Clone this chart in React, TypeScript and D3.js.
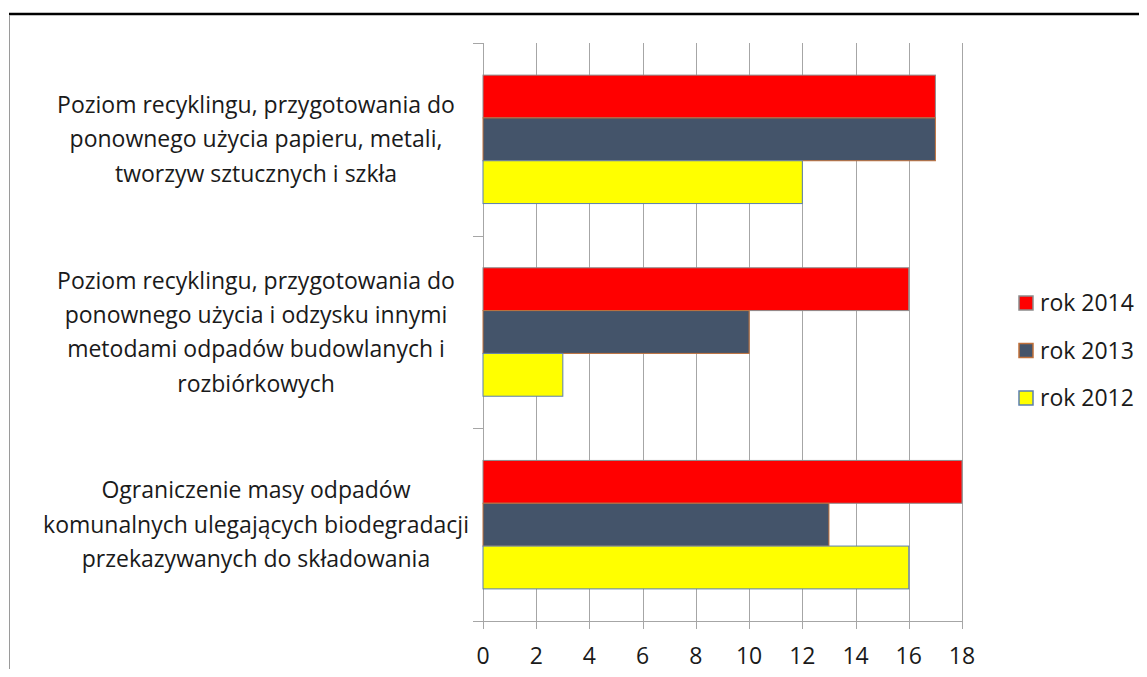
import React from "react";
import * as d3 from "d3";

const categories: string[][] = [
  ["Poziom recyklingu, przygotowania do", "ponownego użycia papieru, metali,", "tworzyw sztucznych i szkła"],
  ["Poziom recyklingu, przygotowania do", "ponownego użycia i odzysku innymi", "metodami odpadów budowlanych i", "rozbiórkowych"],
  ["Ograniczenie masy odpadów", "komunalnych ulegających biodegradacji", "przekazywanych do składowania"],
];
const seriesNames = ["rok 2014", "rok 2013", "rok 2012"];
const values2014 = [17, 16, 18];
const values2013 = [17, 10, 13];
const values2012 = [12, 3, 16];
const xTicks = [0, 2, 4, 6, 8, 10, 12, 14, 16, 18];

const seriesValues = [values2014, values2013, values2012];
const fills = ["#FF0000", "#44546A", "#FFFF00"];
const strokes = ["#8c8c8c", "#C0703A", "#5B7FB0"];

const W = 1147;
const H = 677;
const FONT = "'Open Sans', 'Noto Sans', sans-serif";

export default function App() {
  const left = 483;
  const right = 962;
  const top = 43;
  const bottom = 621;
  const x = d3.scaleLinear().domain([0, 18]).range([left, right]);
  const y = d3
    .scaleBand<number>()
    .domain(d3.range(categories.length))
    .range([top, bottom]);
  const inner = d3
    .scaleBand<number>()
    .domain(d3.range(seriesNames.length))
    .range([0, y.bandwidth()])
    .paddingInner(0)
    .paddingOuter(0.75);
  const lineH = 34.3;

  return (
    <div style={{ margin: -8 }}>
      <svg width={W} height={H} style={{ display: "block", background: "#fff" }}>
        <line x1={9} x2={W} y1={14} y2={14} stroke="#000" strokeWidth={2.5} />
        <line x1={9.5} x2={9.5} y1={15} y2={H} stroke="#9a9a9a" strokeWidth={1} />
        {/* gridlines */}
        {xTicks.map((t) => (
          <line key={"g" + t} x1={Math.round(x(t)) + 0.5} x2={Math.round(x(t)) + 0.5} y1={top} y2={bottom + 8} stroke="#a6a6a6" strokeWidth={1} />
        ))}
        {/* category ticks */}
        {d3.range(categories.length + 1).map((i) => {
          const yy = i < categories.length ? (y(i) as number) : bottom;
          return <line key={"c" + i} x1={left - 10} x2={left} y1={Math.round(yy) + 0.5} y2={Math.round(yy) + 0.5} stroke="#a6a6a6" />;
        })}
        <line x1={left - 10} x2={right} y1={bottom + 0.5} y2={bottom + 0.5} stroke="#a6a6a6" />
        {/* bars */}
        {categories.map((_, ci) =>
          seriesValues.map((vals, si) => (
            <rect
              key={ci + "-" + si}
              x={x(0)}
              y={(y(ci) as number) + (inner(si) as number)}
              width={x(vals[ci]) - x(0)}
              height={inner.bandwidth()}
              fill={fills[si]}
              stroke={strokes[si]}
              strokeWidth={1}
            />
          ))
        )}
        {/* category labels */}
        {categories.map((lines, ci) => {
          const cy = (y(ci) as number) + y.bandwidth() / 2;
          const start = cy - ((lines.length - 1) * lineH) / 2;
          return (
            <text key={"l" + ci} fontFamily={FONT} fontSize={23} fill="#1a1a1a" textAnchor="middle">
              {lines.map((ln, li) => (
                <tspan key={li} x={256} y={start + li * lineH} dy="0.35em">
                  {ln}
                </tspan>
              ))}
            </text>
          );
        })}
        {/* x tick labels */}
        {xTicks.map((t) => (
          <text key={"t" + t} x={x(t)} y={656} dy="0.35em" textAnchor="middle" fontFamily={FONT} fontSize={23} fill="#1a1a1a">
            {t}
          </text>
        ))}
        {/* legend */}
        {seriesNames.map((n, si) => {
          const ly = 303 + si * 47.5;
          return (
            <g key={"lg" + si}>
              <rect x={1019} y={ly - 7} width={14} height={14} fill={fills[si]} stroke={strokes[si]} strokeWidth={1.5} />
              <text x={1040} y={ly} dy="0.35em" fontFamily={FONT} fontSize={23} fill="#1a1a1a">
                {n}
              </text>
            </g>
          );
        })}
      </svg>
    </div>
  );
}
